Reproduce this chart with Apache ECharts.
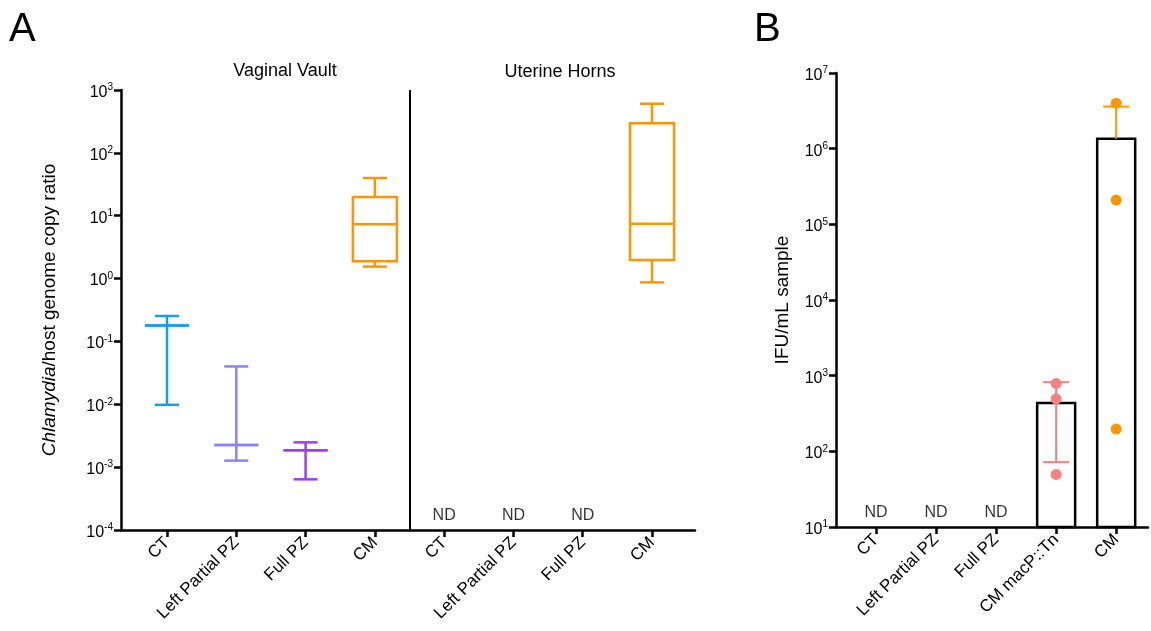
<!DOCTYPE html>
<html>
<head>
<meta charset="utf-8">
<title>Chlamydia genome ratio and IFU</title>
<script src="https://cdn.jsdelivr.net/npm/echarts@6/dist/echarts.min.js"></script>
<style>
  html, body { margin: 0; padding: 0; background: #fff; }
  #chart { width: 1151px; height: 631px; }
</style>
</head>
<body>
<div id="chart"></div>
<script>
// panel A - genome copy ratio, 4 strains in each site
const strainsA = ['CT', 'Left Partial PZ', 'Full PZ', 'CM', 'CT', 'Left Partial PZ', 'Full PZ', 'CM']
const sites = ['Vaginal Vault', 'Uterine Horns']
// [min, q1, median, q3, max]  (null = not detected)
const ratioBoxes = [
  [0.0098, 0.18, 0.18, 0.18, 0.254],
  [0.00127, 0.00225, 0.00225, 0.00225, 0.040],
  [0.00064, 0.00185, 0.00185, 0.00185, 0.00248],
  [1.55, 1.88, 7.3, 19.9, 39.8],
  null,
  null,
  null,
  [0.87, 1.98, 7.46, 295, 605]
]
const decadesA = [-4, -3, -2, -1, 0, 1, 2, 3]

// panel B - IFU/mL
const strainsB = ['CT', 'Left Partial PZ', 'Full PZ', 'CM macP::Tn', 'CM']
const ifuMean = [null, null, null, 435, 1.35e6]
const ifuLow = [null, null, null, 72, null]
const ifuHigh = [null, null, null, 822, 3.6e6]
const ifuPoints = [[], [], [], [789, 495, 49.5], [3.99e6, 2.09e5, 197]]
const decadesB = [1, 2, 3, 4, 5, 6, 7]

const colorsA = ['#1a9bf2', '#8585f8', '#9b3ef5', '#ff9500', '#1a9bf2', '#8585f8', '#9b3ef5', '#ff9500']
const colorsB = ['#1a9bf2', '#8585f8', '#9b3ef5', '#f98080', '#ff9500']

const FONT = "'Liberation Sans', Arial, sans-serif"
const chart = echarts.init(document.getElementById('chart'))

const powLabel = v => '{b|10}{s|' + Math.round(Math.log10(v)) + '}'
const powRich = {
  b: { fontSize: 16, fontFamily: FONT, color: '#000', lineHeight: 20 },
  s: { fontSize: 10, fontFamily: FONT, color: '#000', verticalAlign: 'top', lineHeight: 11 }
}

// box + whiskers, drawn through the axis scales
function renderBox(params, api) {
  const x = api.value(0)
  const c = colorsA[x]
  const pt = v => api.coord([x, v])
  const lo = pt(api.value(1)), q1 = pt(api.value(2)), md = pt(api.value(3))
  const q3 = pt(api.value(4)), hi = pt(api.value(5))
  const cx = lo[0], bw = 22, cw = 12
  const style = { stroke: c, lineWidth: 2.5, fill: null }
  return {
    type: 'group',
    children: [
      { type: 'line', shape: { x1: cx, y1: hi[1], x2: cx, y2: q3[1] }, style },
      { type: 'line', shape: { x1: cx, y1: q1[1], x2: cx, y2: lo[1] }, style },
      { type: 'line', shape: { x1: cx - cw, y1: hi[1], x2: cx + cw, y2: hi[1] }, style },
      { type: 'line', shape: { x1: cx - cw, y1: lo[1], x2: cx + cw, y2: lo[1] }, style },
      { type: 'rect', shape: { x: cx - bw, y: q3[1], width: bw * 2, height: q1[1] - q3[1] }, style },
      { type: 'line', shape: { x1: cx - bw, y1: md[1], x2: cx + bw, y2: md[1] }, style }
    ]
  }
}

function renderBar(params, api) {
  const x = api.value(0)
  const top = api.coord([x, api.value(1)])
  const base = api.coord([x, Math.pow(10, decadesB[0])])
  const hw = 19
  return {
    type: 'rect',
    shape: { x: top[0] - hw, y: top[1], width: hw * 2, height: base[1] - top[1] },
    style: { fill: '#fff', stroke: '#000', lineWidth: 2.5 }
  }
}

function renderErr(params, api) {
  const x = api.value(0)
  const c = colorsB[x]
  const mean = api.coord([x, api.value(1)])
  const hi = api.coord([x, api.value(3)])
  const hasLow = !isNaN(api.value(2)) && api.value(2) > 0
  const lo = hasLow ? api.coord([x, api.value(2)]) : mean
  const cx = mean[0], cw = 13
  const style = { stroke: c, lineWidth: 2 }
  const kids = [
    { type: 'line', shape: { x1: cx, y1: hi[1], x2: cx, y2: lo[1] }, style },
    { type: 'line', shape: { x1: cx - cw, y1: hi[1], x2: cx + cw, y2: hi[1] }, style }
  ]
  if (hasLow) kids.push({ type: 'line', shape: { x1: cx - cw, y1: lo[1], x2: cx + cw, y2: lo[1] }, style })
  return { type: 'group', children: kids }
}

const boxData = []
const ndA = []
ratioBoxes.forEach((b, i) => {
  if (b) boxData.push([i].concat(b))
  else ndA.push([i, Math.pow(10, decadesA[0])])
})

const barData = [], errData = [], ndB = [], pointData = []
strainsB.forEach((s, i) => {
  if (ifuMean[i] == null) {
    ndB.push([i, Math.pow(10, decadesB[0])])
    return
  }
  barData.push([i, ifuMean[i]])
  errData.push([i, ifuMean[i], ifuLow[i] == null ? 0 : ifuLow[i], ifuHigh[i]])
  ifuPoints[i].forEach(v => pointData.push({ value: [i, v], itemStyle: { color: colorsB[i], opacity: 1 } }))
})

const axisLine = { show: true, onZero: false, lineStyle: { color: '#000', width: 2.5 } }
const axisTick = { show: true, length: 7, lineStyle: { color: '#000', width: 2.5 } }
const catLabel = {
  rotate: 45, fontSize: 17, fontFamily: FONT, color: '#000', margin: 10
}
const ndLabel = {
  show: true, position: 'top', distance: 6, formatter: 'ND',
  fontSize: 16, fontFamily: FONT, color: '#000'
}
const powAxisLabel = { formatter: powLabel, rich: powRich, margin: 8, padding: [5, 0, 0, 0] }

const idxA = strainsA.map((s, i) => i)
const idxB = strainsB.map((s, i) => i)

chart.setOption({
  animation: false,
  backgroundColor: '#fff',
  grid: [
    { left: 121, top: 90, width: 574, height: 440 },
    { left: 836, top: 73, width: 312, height: 454 }
  ],
  xAxis: [
    {
      gridIndex: 0, type: 'value', min: -0.664, max: 7.62,
      axisLine, splitLine: { show: false },
      axisTick: Object.assign({}, axisTick, { customValues: idxA }),
      axisLabel: Object.assign({}, catLabel, { customValues: idxA, formatter: v => strainsA[Math.round(v)] })
    },
    {
      gridIndex: 1, type: 'value', min: -0.667, max: 4.53,
      axisLine, splitLine: { show: false },
      axisTick: Object.assign({}, axisTick, { customValues: idxB }),
      axisLabel: Object.assign({}, catLabel, { customValues: idxB, formatter: v => strainsB[Math.round(v)] })
    }
  ],
  yAxis: [
    {
      gridIndex: 0, type: 'log', logBase: 10,
      min: Math.pow(10, decadesA[0]), max: Math.pow(10, decadesA[decadesA.length - 1]),
      axisLine, splitLine: { show: false },
      axisTick: Object.assign({}, axisTick, { customValues: decadesA.map(d => Math.pow(10, d)) }),
      axisLabel: Object.assign({}, powAxisLabel, { customValues: decadesA.map(d => Math.pow(10, d)) }),
      name: '{i|Chlamydia}/host genome copy ratio',
      nameLocation: 'middle', nameGap: 62,
      nameTextStyle: {
        fontSize: 19, fontFamily: FONT, color: '#000',
        rich: { i: { fontSize: 19, fontFamily: FONT, fontStyle: 'italic', color: '#000' } }
      }
    },
    {
      gridIndex: 1, type: 'log', logBase: 10,
      min: Math.pow(10, decadesB[0]), max: Math.pow(10, decadesB[decadesB.length - 1]),
      axisLine, splitLine: { show: false },
      axisTick: Object.assign({}, axisTick, { customValues: decadesB.map(d => Math.pow(10, d)) }),
      axisLabel: Object.assign({}, powAxisLabel, { customValues: decadesB.map(d => Math.pow(10, d)) }),
      name: 'IFU/mL sample',
      nameLocation: 'middle', nameGap: 44,
      nameTextStyle: { fontSize: 19, fontFamily: FONT, color: '#000' }
    }
  ],
  graphic: [
    { type: 'text', left: 9, top: 10, style: { text: 'A', fontSize: 40, fontFamily: FONT, fill: '#000' } },
    { type: 'text', left: 754, top: 10, style: { text: 'B', fontSize: 40, fontFamily: FONT, fill: '#000' } },
    { type: 'text', x: 285, y: 71, style: { text: sites[0], fontSize: 18, fontFamily: FONT, fill: '#000', align: 'center', verticalAlign: 'middle' } },
    { type: 'text', x: 560, y: 72, style: { text: sites[1], fontSize: 18, fontFamily: FONT, fill: '#000', align: 'center', verticalAlign: 'middle' } }
  ],
  series: [
    {
      type: 'custom', xAxisIndex: 0, yAxisIndex: 0,
      renderItem: renderBox, data: boxData, silent: true,
      markLine: {
        silent: true, symbol: 'none', label: { show: false },
        lineStyle: { color: '#000', width: 2, type: 'solid' },
        data: [{ xAxis: (strainsA.length - 1) / 2 }]
      }
    },
    {
      type: 'scatter', xAxisIndex: 0, yAxisIndex: 0, symbolSize: 0,
      data: ndA, label: ndLabel, silent: true
    },
    {
      type: 'custom', xAxisIndex: 1, yAxisIndex: 1,
      renderItem: renderBar, data: barData, silent: true
    },
    {
      type: 'custom', xAxisIndex: 1, yAxisIndex: 1,
      renderItem: renderErr, data: errData, silent: true, z: 3
    },
    {
      type: 'scatter', xAxisIndex: 1, yAxisIndex: 1, symbolSize: 11,
      data: pointData, silent: true, z: 4
    },
    {
      type: 'scatter', xAxisIndex: 1, yAxisIndex: 1, symbolSize: 0,
      data: ndB, label: ndLabel, silent: true
    }
  ]
})
</script>
</body>
</html>
